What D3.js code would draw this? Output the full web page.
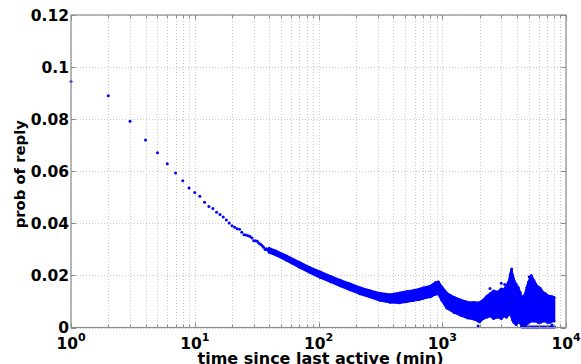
<!DOCTYPE html>
<html>
<head>
<meta charset="utf-8">
<script src="https://cdn.jsdelivr.net/npm/d3@7"></script>
<style>
  html, body { margin: 0; padding: 0; background: #fff; }
  svg { display: block; }
  text { font-family: "DejaVu Sans", sans-serif; font-weight: bold; fill: #000; }
</style>
</head>
<body>
<svg id="chart" width="581" height="364"></svg>
<script>
// Reply probability for the first minutes (one sample per minute)
const earlyMinutes = d3.range(1, 41);
const earlyProb = [
  0.0945, 0.0890, 0.0792, 0.0720, 0.0671, 0.0629, 0.0593, 0.0564, 0.0536, 0.0518,
  0.0504, 0.0481, 0.0465, 0.0457, 0.0443, 0.0434, 0.0424, 0.0413, 0.0401, 0.0391,
  0.0385, 0.0379, 0.0377, 0.0366, 0.0356, 0.0355, 0.0352, 0.0349, 0.0344, 0.0333,
  0.0333, 0.0331, 0.0324, 0.0320, 0.0315, 0.0308, 0.0300, 0.0302, 0.0297, 0.0295
];

// Dense region: spread of the per-minute values (lower / upper envelope)
const bandMinutes = [40, 45, 55, 70, 85, 103, 125, 150, 180, 216, 260, 313, 380, 450, 520, 580,
  650, 700, 800, 880, 930, 990, 1090, 1250, 1400, 1600, 1800, 2000, 2150, 2300, 2450, 2600, 2800,
  3000, 3150, 3300, 3450, 3550, 3620, 3700, 3800, 3950, 4100, 4250, 4400, 4550, 4700, 4850, 5000,
  5150, 5300, 5500, 5700, 5950, 6200, 6500, 6800, 7100, 7400, 7700, 8000];
const bandLow = [0.0289, 0.0279, 0.0259, 0.0232, 0.0212, 0.0193, 0.0176, 0.0160, 0.0145, 0.0130,
  0.0118, 0.0105, 0.0097, 0.0095, 0.0100, 0.0104, 0.0108, 0.0112, 0.0118, 0.0128, 0.0130, 0.0106,
  0.0075, 0.0058, 0.0048, 0.0037, 0.0033, 0.0022, 0.0035, 0.0040, 0.0045, 0.0035, 0.0040,
  0.0035, 0.0045, 0.0040, 0.0050, 0.0060, 0.0045, 0.0030, 0.0020, 0.0012, 0.0020, 0.0020, 0.0005,
  0.0010, 0.0010, 0.0015, 0.0020, 0.0025, 0.0025, 0.0025, 0.0025, 0.0020, 0.0020, 0.0025, 0.0025,
  0.0020, 0.0020, 0.0025, 0.0025];
const bandHigh = [0.0303, 0.0294, 0.0275, 0.0250, 0.0230, 0.0213, 0.0196, 0.0181, 0.0167, 0.0153,
  0.0141, 0.0131, 0.0126, 0.0132, 0.0138, 0.0141, 0.0147, 0.0152, 0.0158, 0.0172, 0.0175, 0.0155,
  0.0131, 0.0115, 0.0106, 0.0097, 0.0096, 0.0095, 0.0105, 0.0120, 0.0130, 0.0140, 0.0135,
  0.0148, 0.0145, 0.0160, 0.0175, 0.0200, 0.0218, 0.0200, 0.0180, 0.0165, 0.0150, 0.0135, 0.0110,
  0.0120, 0.0130, 0.0155, 0.0175, 0.0190, 0.0192, 0.0180, 0.0165, 0.0155, 0.0150, 0.0135, 0.0130,
  0.0122, 0.0120, 0.0118, 0.0115];

// Minutes with zero observed replies near the end of the range
const zeroMinutes = [4400, 4600, 4800, 5000, 5200, 5400, 5600, 5800, 6000, 6300, 6600, 6900, 7200, 7500, 7800, 8100];
const zeroProb = [0.0002, 0.0002, 0.0002, 0.0002, 0.0002, 0.0002, 0.0002, 0.0002, 0.0002, 0.0002,
  0.0002, 0.0002, 0.0002, 0.0002, 0.0002, 0.0002];

// Scattered values outside the main spread
const strayMinutes = [1950, 2430, 2600, 3000, 3200, 3640, 3560, 4100, 5050, 5250, 6900, 7700];
const strayProb = [0.0006, 0.0150, 0.0125, 0.0170, 0.0165, 0.0225, 0.0205, 0.0155, 0.0195, 0.0200, 0.0120, 0.0010];

const xTickValues = [1, 10, 100, 1000, 10000];
const xTickExponents = ["0", "1", "2", "3", "4"];
const yTickValues = [0, 0.02, 0.04, 0.06, 0.08, 0.1, 0.12];
const yTickLabels = ["0", "0.02", "0.04", "0.06", "0.08", "0.1", "0.12"];

const margin = { left: 71, right: 15, top: 15, bottom: 36.5 };
const W = 581, H = 364;
const svg = d3.select("#chart");
const x = d3.scaleLog().domain([1, 10000]).range([margin.left, W - margin.right]);
const y = d3.scaleLinear().domain([0, 0.12]).range([H - margin.bottom, margin.top]);
const [x0, x1] = x.range();
const [y0, y1] = y.range();

// minor decade positions for the log axis
const minorX = [];
for (let e = 0; e < 4; e++) for (let m = 1; m < 10; m++) minorX.push(m * Math.pow(10, e));
minorX.push(10000);

// grid
const grid = svg.append("g").attr("stroke", "#c8c8c8").attr("stroke-width", 1)
  .attr("stroke-dasharray", "1,2");
grid.selectAll("line.vx").data(minorX).join("line")
  .attr("x1", d => Math.round(x(d)) + 0.5).attr("x2", d => Math.round(x(d)) + 0.5)
  .attr("y1", y1).attr("y2", y0);
grid.selectAll("line.hy").data(yTickValues).join("line")
  .attr("y1", d => Math.round(y(d)) + 0.5).attr("y2", d => Math.round(y(d)) + 0.5)
  .attr("x1", x0).attr("x2", x1);

// data marks
const blue = "#0000ff";
const area = d3.area()
  .x((d, i) => x(bandMinutes[i]))
  .y0((d, i) => y(bandLow[i]))
  .y1((d, i) => y(bandHigh[i]));
svg.append("path").datum(bandMinutes).attr("d", area)
  .attr("fill", blue).attr("stroke", blue).attr("stroke-width", 2.6).attr("stroke-linejoin", "round");

const dots = svg.append("g").attr("fill", blue);
const dot = (xs, ys) => dots.selectAll(null).data(xs).join("circle")
  .attr("cx", d => x(d)).attr("cy", (d, i) => y(ys[i])).attr("r", 1.5);
dot(earlyMinutes, earlyProb);
dot(bandMinutes, bandLow);
dot(bandMinutes, bandHigh);
dot(zeroMinutes, zeroProb);
dot(strayMinutes, strayProb);

// line of zero values
svg.append("line")
  .attr("x1", x(zeroMinutes[0])).attr("x2", x(zeroMinutes[zeroMinutes.length - 1]))
  .attr("y1", y(0.0002)).attr("y2", y(0.0002))
  .attr("stroke", blue).attr("stroke-width", 2.5);

// axes box and ticks
const axisColor = "#8c8c8c";
const box = svg.append("g").attr("stroke", axisColor).attr("stroke-width", 1.2).attr("fill", "none");
box.append("rect").attr("x", x0).attr("y", y1).attr("width", x1 - x0).attr("height", y0 - y1);

const tickX = svg.append("g").attr("stroke", axisColor).attr("stroke-width", 1);
minorX.forEach(v => {
  const px = Math.round(x(v)) + 0.5;
  const len = xTickValues.includes(v) ? 5 : 3;
  tickX.append("line").attr("x1", px).attr("x2", px).attr("y1", y0).attr("y2", y0 - len);
  tickX.append("line").attr("x1", px).attr("x2", px).attr("y1", y1).attr("y2", y1 + len);
});
yTickValues.forEach(v => {
  const py = Math.round(y(v)) + 0.5;
  tickX.append("line").attr("x1", x0).attr("x2", x0 + 5).attr("y1", py).attr("y2", py);
  tickX.append("line").attr("x1", x1).attr("x2", x1 - 5).attr("y1", py).attr("y2", py);
});

// tick labels
svg.append("g").selectAll("text").data(yTickValues).join("text")
  .attr("x", x0 - 2).attr("y", d => y(d) + 5.5)
  .attr("text-anchor", "end").attr("font-size", 15.5)
  .text((d, i) => yTickLabels[i]);

const xl = svg.append("g").selectAll("text").data(xTickValues).join("text")
  .attr("x", d => x(d)).attr("y", 349)
  .attr("text-anchor", "middle").attr("font-size", 15.5);
xl.append("tspan").text("10");
xl.append("tspan").attr("dy", -8).attr("font-size", 11).text((d, i) => xTickExponents[i]);

// axis titles
svg.append("text").attr("x", (x0 + x1) / 2 + 2).attr("y", 363.5)
  .attr("text-anchor", "middle").attr("font-size", 16)
  .text("time since last active (min)");
svg.append("text").attr("transform", `translate(25,${(y0 + y1) / 2 + 3}) rotate(-90)`)
  .attr("text-anchor", "middle").attr("font-size", 14.8)
  .text("prob of reply");
</script>
</body>
</html>
